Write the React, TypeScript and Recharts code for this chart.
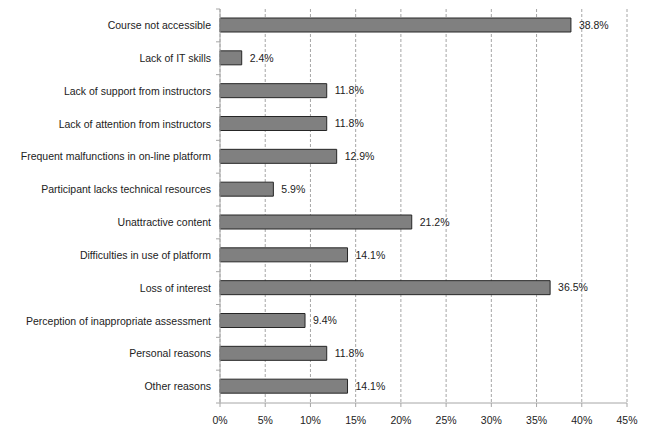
import React from "react";
import { ComposedChart, Bar, XAxis, YAxis, CartesianGrid, LabelList } from "recharts";

const categories = [
  "Course not accessible",
  "Lack of IT skills",
  "Lack of support from instructors",
  "Lack of attention from instructors",
  "Frequent malfunctions in on-line platform",
  "Participant lacks technical resources",
  "Unattractive content",
  "Difficulties in use of platform",
  "Loss of interest",
  "Perception of inappropriate assessment",
  "Personal reasons",
  "Other reasons",
];
const values = [38.8, 2.4, 11.8, 11.8, 12.9, 5.9, 21.2, 14.1, 36.5, 9.4, 11.8, 14.1];
const xTicks = [0, 5, 10, 15, 20, 25, 30, 35, 40, 45];

const data = categories.map((c, i) => ({ name: c, value: values[i] }));

const FONT = "'Liberation Sans', Arial, sans-serif";
const AXIS = "#a6a6a6";

const W = 640;
const H = 427;
const M = { top: 1, right: 21, left: 0, bottom: 0 };
const X_H = 32;
const Y_W = 212;
const TICK_GAP = 9;
const BAND = (H - M.top - M.bottom - X_H) / categories.length;

const CatTick = (props: any) => {
  const { x, y, payload, index } = props;
  const ax = x + TICK_GAP;
  const isLast = index === categories.length - 1;
  return (
    <g>
      <line x1={ax - 4} x2={ax} y1={y - BAND / 2} y2={y - BAND / 2} stroke={AXIS} />
      {isLast && <line x1={ax - 4} x2={ax} y1={y + BAND / 2} y2={y + BAND / 2} stroke={AXIS} />}
      <text x={x} y={y} dy="0.355em" textAnchor="end" fill="#222" fontSize={10.5} fontFamily={FONT}>
        {payload.value}
      </text>
    </g>
  );
};

export default function App() {
  return (
    <ComposedChart
      width={W}
      height={H}
      data={data}
      layout="vertical"
      margin={M}
      style={{ fontFamily: FONT }}
    >
      <CartesianGrid horizontal={false} stroke={AXIS} strokeDasharray="3 2" />
      <XAxis
        type="number"
        domain={[0, 45]}
        ticks={xTicks}
        tickFormatter={(v: number) => `${v}%`}
        stroke={AXIS}
        tick={{ fill: "#222", fontSize: 10.5 }}
        tickSize={4}
        tickMargin={10}
        height={X_H}
        interval={0}
      />
      <YAxis
        type="category"
        dataKey="name"
        width={Y_W}
        stroke={AXIS}
        tickLine={false}
        tickSize={0}
        tickMargin={TICK_GAP}
        tick={<CatTick />}
        interval={0}
      />
      <Bar
        dataKey="value"
        fill="#808080"
        stroke="#262626"
        strokeWidth={1}
        barSize={14}
        isAnimationActive={false}
      >
        <LabelList
          dataKey="value"
          position="right"
          offset={8}
          formatter={(v: number) => `${v.toFixed(1)}%`}
          style={{ fill: "#222", fontSize: 10.5, fontFamily: FONT }}
        />
      </Bar>
    </ComposedChart>
  );
}
